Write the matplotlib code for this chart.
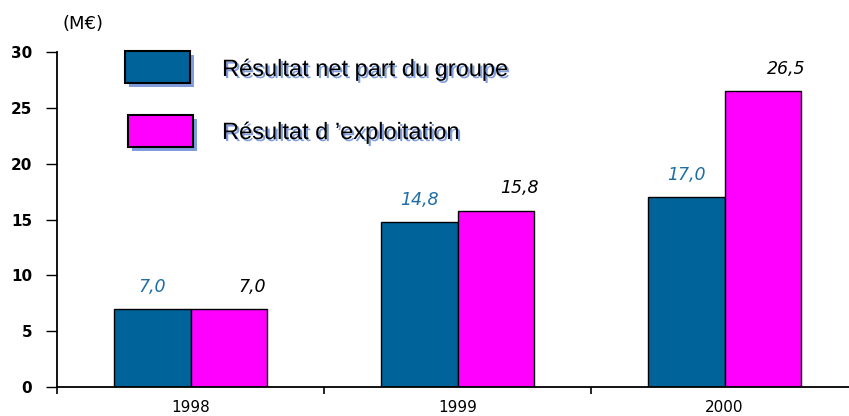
import matplotlib
matplotlib.use("Agg")
import matplotlib.pyplot as plt
import matplotlib.patheffects as pe
from matplotlib.patches import Rectangle
from matplotlib.ticker import FixedLocator
import numpy as np

years = ["1998", "1999", "2000"]
resultat_net = [7.0, 14.8, 17.0]
resultat_exploitation = [7.0, 15.8, 26.5]
series_names = ["Résultat net part du groupe", "Résultat d \u2019exploitation"]
unit_label = "(M€)"

BLUE = "#006399"
PINK = "#ff00ff"
SHADOW = "#7f9ddf"
LABEL_BLUE = "#1f6fa3"

fig = plt.figure(figsize=(8.49, 4.16), dpi=100)
ax = fig.add_axes([57 / 849, 1 - 387 / 416, 1 - 57 / 849, (387 - 52) / 416])

x = np.arange(len(years))
w = 0.288
bars_net = ax.bar(x - w / 2, resultat_net, w, color=BLUE, edgecolor="black", linewidth=1.0, zorder=2)
bars_exp = ax.bar(x + w / 2, resultat_exploitation, w, color=PINK, edgecolor="black", linewidth=1.0, zorder=2)

# value labels above each bar, comma as decimal separator
def fmt(v):
    return f"{v:.1f}".replace(".", ",")

for b, v in zip(bars_net, resultat_net):
    ax.annotate(fmt(v), (b.get_x() + b.get_width() / 2, v), xytext=(0, 16),
                textcoords="offset points", ha="center", va="center",
                fontsize=12.5, style="italic", color=LABEL_BLUE, family="DejaVu Sans")
for b, v in zip(bars_exp, resultat_exploitation):
    ax.annotate(fmt(v), (b.get_x() + b.get_width() / 2, v), xytext=(17, 16),
                textcoords="offset points", ha="center", va="center",
                fontsize=12.5, style="italic", color="black", family="DejaVu Sans")

ax.set_xlim(-0.5, 2.466)
ax.set_ylim(0, 30)
ax.set_yticks([0, 5, 10, 15, 20, 25, 30])
ax.set_xticks(x)
ax.set_xticklabels(years, fontsize=11, family="DejaVu Sans")
ax.xaxis.set_minor_locator(FixedLocator([-0.5, 0.5, 1.5, 2.5]))
ax.tick_params(axis="x", which="major", length=0, pad=9)
ax.tick_params(axis="x", which="minor", length=5, width=1.2, direction="out")
ax.tick_params(axis="y", length=8, width=1.0, pad=10, labelsize=11)
for lbl in ax.get_yticklabels():
    lbl.set_fontweight("bold")
    lbl.set_family("DejaVu Sans")

for s in ("top", "right"):
    ax.spines[s].set_visible(False)
ax.spines["left"].set_linewidth(1.3)
ax.spines["bottom"].set_linewidth(1.3)

fig.text(83 / 849, 1 - 24 / 416, unit_label, ha="center", va="center",
         fontsize=13, family="DejaVu Sans")

# hand-drawn legend with drop shadows
H = 416.0
W = 849.0
legend_boxes = [(125, 51, BLUE), (128, 115, PINK)]
text_y = [70, 133]
for (lx, ly, col), name, ty in zip(legend_boxes, series_names, text_y):
    shadow = Rectangle(((lx + 4) / W, 1 - (ly + 32 + 4) / H), 65 / W, 32 / H,
                       transform=fig.transFigure, facecolor=SHADOW, edgecolor="none")
    box = Rectangle((lx / W, 1 - (ly + 32) / H), 65 / W, 32 / H,
                    transform=fig.transFigure, facecolor=col, edgecolor="black", linewidth=1.5)
    fig.patches.extend([shadow, box])
    fig.text(222 / W, 1 - ty / H, name, ha="left", va="center", fontsize=17,
             family="Liberation Sans", color="black",
             path_effects=[pe.withSimplePatchShadow(offset=(1.5, -1.5), shadow_rgbFace=SHADOW, alpha=1.0)])

fig.savefig("out.png", dpi=100, facecolor="white")
